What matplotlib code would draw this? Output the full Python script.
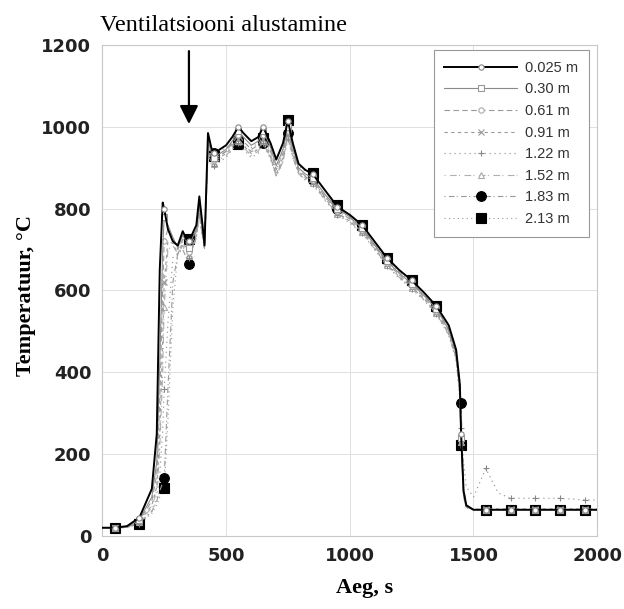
import matplotlib
matplotlib.use('Agg')
import matplotlib.pyplot as plt

# Time axis (s), shared by all sensor heights
aeg = [0, 50, 100, 150, 200, 220, 232, 244, 250, 265,
       285, 305, 325, 340, 350, 365, 380, 392, 405, 413,
       427, 440, 450, 475, 500, 525, 550, 570, 602, 630,
       650, 680, 703, 730, 750, 770, 793, 820, 850, 900,
       950, 1000, 1050, 1100, 1150, 1200, 1250, 1300, 1350, 1400,
       1430, 1445, 1450, 1460, 1471, 1500, 1550, 1600, 1650, 1700,
       1750, 1800, 1850, 1900, 1950, 2000]

# Temperatures (°C) at each height
t_0025 = [20, 20, 24, 45, 115, 250, 650, 815, 800, 750,
          720, 710, 745, 725, 720, 740, 760, 830, 760, 710,
          985, 950, 935, 945, 955, 975, 1000, 985, 965, 975,
          1000, 960, 920, 960, 1015, 960, 910, 895, 885, 845,
          805, 785, 760, 720, 680, 650, 625, 595, 562, 515,
          455, 370, 250, 110, 75, 64, 64, 64, 64, 64,
          64, 64, 64, 64, 64, 64]
t_030 = [20, 20, 22, 40, 95, 180, 420, 700, 780, 760,
         730, 705, 735, 720, 705, 730, 750, 810, 750, 720,
         965, 940, 925, 935, 945, 965, 990, 975, 955, 965,
         990, 950, 905, 945, 1000, 950, 900, 885, 875, 835,
         800, 780, 752, 712, 672, 642, 617, 588, 555, 505,
         445, 360, 240, 105, 72, 64, 64, 64, 64, 64,
         64, 64, 64, 64, 64, 64]
t_061 = [20, 20, 21, 38, 85, 150, 330, 600, 720, 750,
         725, 700, 725, 715, 695, 720, 745, 800, 740, 715,
         955, 930, 920, 930, 940, 960, 980, 965, 945, 955,
         980, 940, 895, 935, 990, 940, 895, 880, 870, 830,
         795, 775, 748, 708, 668, 638, 612, 584, 550, 500,
         440, 355, 235, 100, 70, 64, 64, 64, 64, 64,
         64, 64, 64, 64, 64, 64]
t_091 = [20, 20, 21, 35, 75, 120, 250, 480, 620, 720,
         715, 690, 715, 705, 690, 710, 735, 790, 735, 710,
         945, 920, 915, 925, 935, 950, 970, 955, 935, 945,
         970, 930, 885, 925, 980, 930, 890, 875, 865, 825,
         790, 770, 744, 704, 664, 634, 608, 580, 546, 495,
         435, 350, 230, 95, 70, 65, 66, 66, 66, 66,
         66, 66, 66, 66, 66, 66]
t_122 = [20, 20, 20, 30, 60, 90, 150, 260, 360, 520,
         680, 690, 705, 700, 680, 705, 730, 780, 730, 705,
         935, 910, 905, 915, 925, 945, 960, 945, 925, 935,
         960, 920, 880, 915, 970, 925, 885, 870, 860, 820,
         785, 765, 740, 700, 660, 630, 604, 576, 542, 490,
         430, 345, 265, 180, 120, 95, 165, 105, 92, 92,
         92, 92, 92, 90, 88, 88]
t_152 = [20, 20, 21, 33, 70, 110, 210, 400, 560, 700,
         710, 690, 710, 700, 685, 705, 730, 785, 730, 705,
         940, 915, 910, 920, 930, 945, 965, 950, 930, 940,
         965, 925, 880, 920, 975, 925, 885, 872, 862, 822,
         788, 768, 742, 702, 662, 632, 606, 578, 544, 492,
         432, 340, 230, 95, 68, 64, 64, 64, 64, 64,
         64, 64, 64, 64, 64, 64]
t_183 = [20, 20, 21, 32, 60, 85, 110, 130, 142, 360,
         620, 690, 700, 680, 665, 700, 730, 790, 735, 700,
         935, 925, 935, 930, 940, 955, 970, 955, 940, 945,
         960, 925, 880, 915, 985, 940, 890, 878, 870, 828,
         800, 778, 755, 712, 675, 645, 620, 588, 558, 505,
         450, 380, 325, 120, 72, 64, 64, 64, 64, 64,
         64, 64, 64, 64, 64, 64]
t_213 = [20, 20, 21, 30, 55, 75, 95, 110, 117, 280,
         560, 690, 720, 730, 725, 720, 745, 800, 745, 705,
         945, 935, 930, 940, 950, 960, 958, 960, 950, 960,
         973, 940, 895, 940, 1017, 955, 905, 892, 888, 845,
         808, 785, 760, 718, 680, 650, 626, 594, 562, 512,
         448, 330, 222, 100, 70, 64, 64, 64, 64, 64,
         64, 64, 64, 64, 64, 64]

korgused = ['0.025 m', '0.30 m', '0.61 m', '0.91 m', '1.22 m', '1.52 m', '1.83 m', '2.13 m']
seeriad = [t_0025, t_030, t_061, t_091, t_122, t_152, t_183, t_213]

# line colour, line style, marker, marker face, marker edge, line width
stiilid = [
    ('black', '-', 'o', 'white', '#888888', 1.4),
    ('#8a8a8a', '-', 's', 'white', '#999999', 0.8),
    ('#9a9a9a', (0, (5, 3)), 'o', 'white', '#aaaaaa', 0.8),
    ('#9a9a9a', (0, (3, 3)), 'x', 'none', '#999999', 0.8),
    ('#a0a0a0', (0, (1, 3)), '+', 'none', '#888888', 0.9),
    ('#b0b0b0', (0, (1, 4, 6, 2)), '^', 'white', '#aaaaaa', 0.8),
    ('#999999', (0, (1, 3, 5, 2)), 'o', 'black', 'black', 0.8),
    ('#999999', (0, (1, 3)), 's', 'black', 'black', 0.8),
]

# markers every 100 s, at 50, 150, ..., 1950
mark_idx = [i for i, t in enumerate(aeg) if t % 100 == 50]

fig = plt.figure(figsize=(6.24, 6.09), dpi=100)
ax = fig.add_axes([0.164, 0.12, 0.793, 0.806])

# draw light series first so black lines stay on top
for nimi, y, st, z in reversed(list(zip(korgused, seeriad, stiilid, range(8)))):
    c, ls, m, mfc, mec, lw = st
    ms = 7 if mfc == 'black' else 3.8
    ax.plot(aeg, y, color=c, linestyle=ls, lw=lw, marker=m, markevery=mark_idx,
            markersize=ms, markerfacecolor=mfc, markeredgecolor=mec,
            markeredgewidth=0.8, label=nimi, zorder=3 + (8 - z) * 0.1)

ax.set_xlim(0, 2000)
ax.set_ylim(0, 1200)
ax.set_xticks([0, 500, 1000, 1500, 2000])
ax.set_yticks([0, 200, 400, 600, 800, 1000, 1200])
ax.grid(True, color='#e0e0e0', lw=0.7)
ax.tick_params(length=0, labelsize=13, colors='#222222', pad=8)
for lab in ax.get_xticklabels() + ax.get_yticklabels():
    lab.set_fontweight('bold')
for sp in ax.spines.values():
    sp.set_color('#c8c8c8')
    sp.set_linewidth(0.8)

ax.set_xlabel('Aeg, s', family='Liberation Serif', fontweight='bold', fontsize=16)
ax.set_ylabel('Temperatuur, °C', family='Liberation Serif', fontweight='bold', fontsize=16)
ax.xaxis.set_label_coords(0.53, -0.085)
ax.yaxis.set_label_coords(-0.135, 0.49)

# ventilation start
ax.annotate('', xy=(350, 1000), xytext=(350, 1192),
            arrowprops=dict(arrowstyle='-|>', color='black', lw=1.6, mutation_scale=28))
ax.text(-8, 1248, 'Ventilatsiooni alustamine', family='Liberation Serif',
        fontsize=17.5, ha='left', va='center', clip_on=False)

handles, labels = ax.get_legend_handles_labels()
leg = ax.legend(handles[::-1], labels[::-1], loc='upper right',
                bbox_to_anchor=(0.983, 0.99), borderaxespad=0,
                prop={'family': 'Liberation Sans', 'size': 10.5},
                handlelength=5.0, handletextpad=0.5, labelspacing=0.52,
                fancybox=False, framealpha=1, edgecolor='#999999', borderpad=0.75)
leg.get_frame().set_linewidth(0.8)
for t in leg.get_texts():
    t.set_color('#333333')

fig.savefig('out.png', dpi=100)
